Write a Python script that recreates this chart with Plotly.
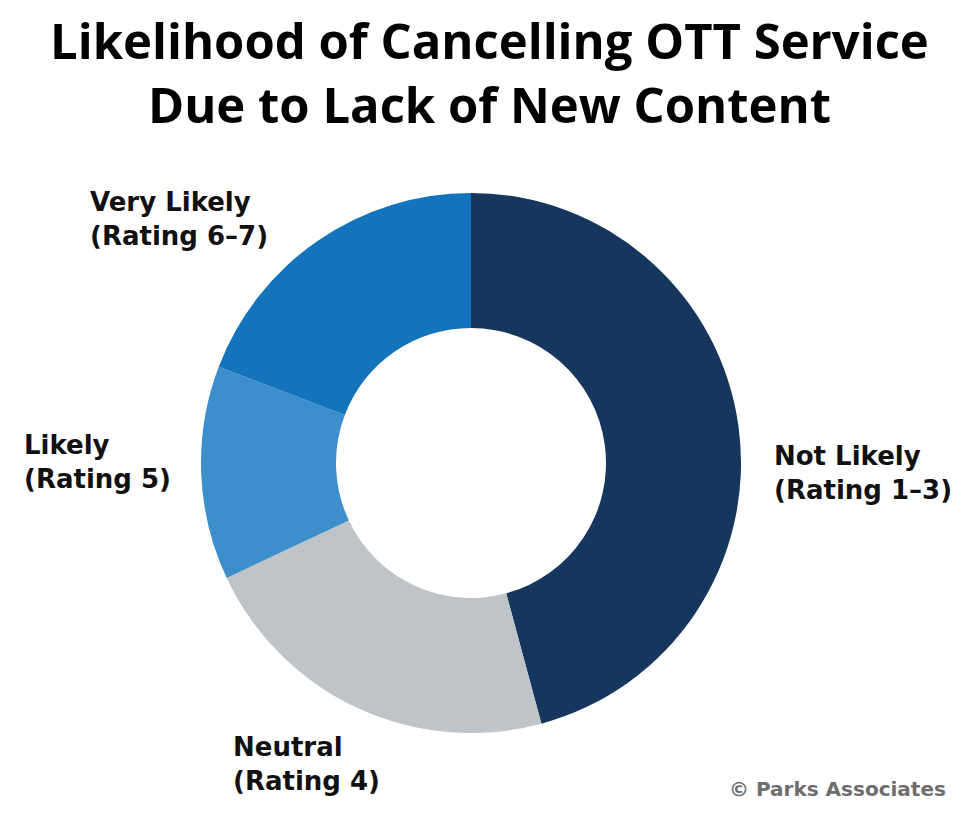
import plotly.graph_objects as go

categories = ["Not Likely (Rating 1-3)", "Neutral (Rating 4)", "Likely (Rating 5)", "Very Likely (Rating 6-7)"]
values = [45.8, 22.2, 12.8, 19.2]
colors = ["#15375E", "#BEC4C8", "#3C8FCB", "#1374BB"]
label_lines = [("Not Likely", "(Rating 1–3)"), ("Neutral", "(Rating 4)"),
               ("Likely", "(Rating 5)"), ("Very Likely", "(Rating 6–7)")]
label_pos = [(772, 473), (231, 764), (22, 462), (88, 219)]

W, H = 978, 818
cx, cy, r = 471, 463, 270

fig = go.Figure(go.Pie(
    labels=categories, values=values, hole=0.5, sort=False, direction="clockwise",
    rotation=0, marker=dict(colors=colors, line=dict(width=0)),
    textinfo="none", hoverinfo="label+percent", showlegend=False,
    domain=dict(x=[(cx - r) / W, (cx + r) / W], y=[(H - cy - r) / H, (H - cy + r) / H]),
))

annotations = []
for (l1, l2), (px, py) in zip(label_lines, label_pos):
    annotations.append(dict(
        text=f"<b>{l1}</b><br><b>{l2}</b>", x=px / W, y=1 - py / H, xref="paper", yref="paper",
        xanchor="left", yanchor="middle", align="left", showarrow=False,
        font=dict(family="DejaVu Sans", size=26, color="#111111"),
    ))
annotations.append(dict(
    text="<b>© Parks Associates</b>", x=948 / W, y=1 - 789 / H, xref="paper", yref="paper",
    xanchor="right", yanchor="middle", showarrow=False,
    font=dict(family="DejaVu Sans", size=20, color="#6E6E6E"),
))
annotations.append(dict(
    text="<b>Likelihood of Cancelling OTT Service</b><br><b>Due to Lack of New Content</b>",
    x=0.5, y=1 - 72 / H, xref="paper", yref="paper", xanchor="center", yanchor="middle",
    showarrow=False, font=dict(family="Open Sans", size=49, color="#000000"),
))

fig.update_layout(
    width=W, height=H, margin=dict(l=0, r=0, t=0, b=0),
    paper_bgcolor="white", plot_bgcolor="white", annotations=annotations,
)
fig.write_html("out.html")
